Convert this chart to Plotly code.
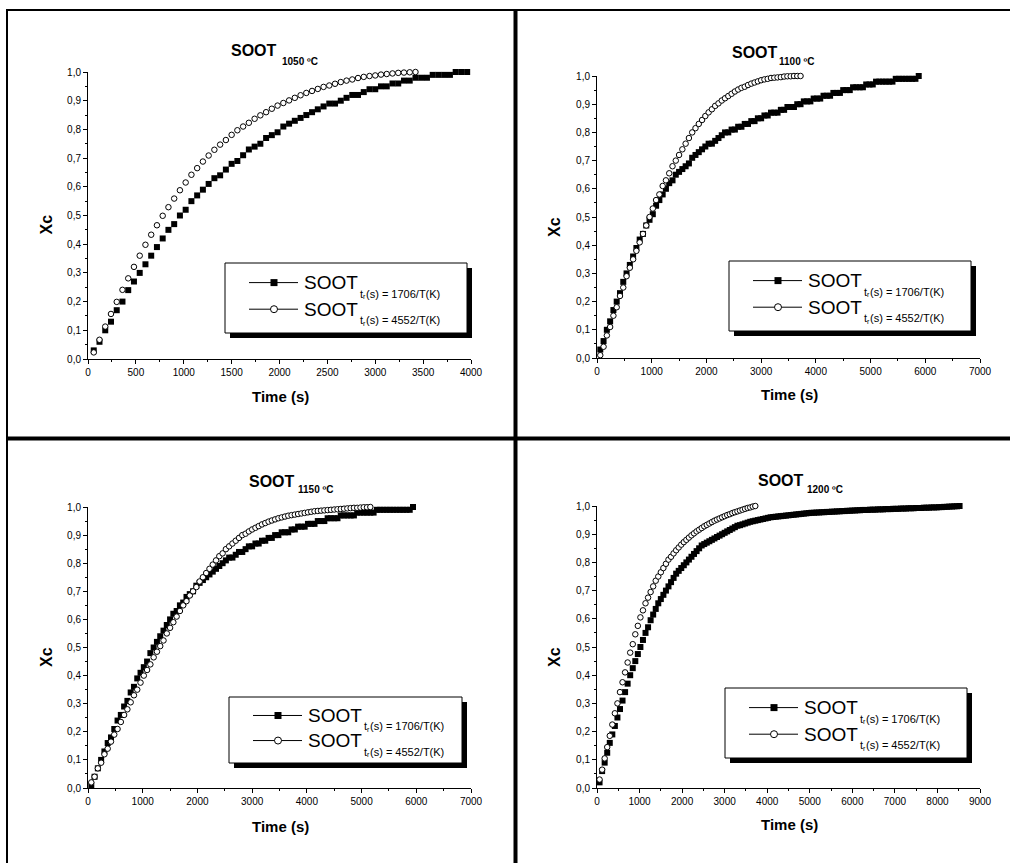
import plotly.graph_objects as go

W, H = 1010, 863
FONT = "Liberation Sans, Arial, sans-serif"

# ---------------- data ----------------
panel_temps = ["1050 ºC", "1100 ºC", "1150 ºC", "1200 ºC"]
series_ratios = ["1706/T(K)", "4552/T(K)"]
x_max = [4000, 7000, 7000, 9000]
x_dtick = [500, 1000, 1000, 1000]
y_ticks = [0.0, 0.1, 0.2, 0.3, 0.4, 0.5, 0.6, 0.7, 0.8, 0.9, 1.0]
sample_step_s = 60  # time between recorded points (s)

xc_1050_1706 = [0.03, 0.06, 0.10, 0.13, 0.17, 0.20, 0.24, 0.27, 0.30, 0.33,
                0.36, 0.39, 0.42, 0.45, 0.47, 0.50, 0.52, 0.55, 0.57, 0.59,
                0.61, 0.63, 0.64, 0.66, 0.68, 0.69, 0.71, 0.73, 0.74, 0.75,
                0.77, 0.78, 0.79, 0.81, 0.82, 0.83, 0.84, 0.85, 0.86, 0.87,
                0.88, 0.89, 0.89, 0.90, 0.91, 0.92, 0.92, 0.93, 0.94, 0.94,
                0.95, 0.95, 0.96, 0.96, 0.97, 0.97, 0.98, 0.98, 0.98, 0.99,
                0.99, 0.99, 0.99, 1.00, 1.00, 1.00]
xc_1050_4552 = [0.023, 0.067, 0.113, 0.157, 0.199, 0.241, 0.281, 0.321, 0.36, 0.398,
                0.433, 0.466, 0.499, 0.529, 0.559, 0.588, 0.615, 0.642, 0.665, 0.688,
                0.709, 0.729, 0.747, 0.763, 0.781, 0.797, 0.81, 0.823, 0.837, 0.849,
                0.86, 0.872, 0.883, 0.892, 0.901, 0.91, 0.919, 0.927, 0.934, 0.941,
                0.948, 0.953, 0.959, 0.965, 0.97, 0.974, 0.979, 0.983, 0.986, 0.988,
                0.991, 0.993, 0.995, 0.997, 0.998, 0.999, 1.0]

xc_1100_1706 = [0.03, 0.06, 0.10, 0.13, 0.17, 0.20, 0.23, 0.27, 0.30, 0.33,
                0.36, 0.39, 0.42, 0.44, 0.47, 0.49, 0.51, 0.54, 0.56, 0.58,
                0.60, 0.62, 0.63, 0.65, 0.66, 0.67, 0.68, 0.69, 0.71, 0.72,
                0.73, 0.74, 0.75, 0.76, 0.76, 0.77, 0.78, 0.79, 0.80, 0.80,
                0.81, 0.81, 0.82, 0.82, 0.83, 0.83, 0.84, 0.84, 0.85, 0.85,
                0.86, 0.86, 0.87, 0.87, 0.87, 0.88, 0.88, 0.89, 0.89, 0.89,
                0.90, 0.90, 0.91, 0.91, 0.91, 0.92, 0.92, 0.92, 0.93, 0.93,
                0.93, 0.94, 0.94, 0.94, 0.95, 0.95, 0.95, 0.96, 0.96, 0.96,
                0.96, 0.97, 0.97, 0.97, 0.98, 0.98, 0.98, 0.98, 0.98, 0.98,
                0.99, 0.99, 0.99, 0.99, 0.99, 0.99, 0.99, 1.00]
xc_1100_4552 = [0.01, 0.04, 0.08, 0.11, 0.15, 0.18, 0.22, 0.25, 0.29, 0.32,
                0.35, 0.38, 0.41, 0.44, 0.47, 0.50, 0.53, 0.56, 0.58, 0.61,
                0.63, 0.655, 0.68, 0.70, 0.72, 0.74, 0.76, 0.78, 0.80, 0.815,
                0.83, 0.844, 0.858, 0.871, 0.882, 0.894, 0.903, 0.913, 0.921, 0.929,
                0.937, 0.945, 0.952, 0.958, 0.962, 0.968, 0.973, 0.977, 0.981, 0.985,
                0.988, 0.99, 0.993, 0.994, 0.995, 0.996, 0.998, 0.999, 0.999, 1.0,
                1.0, 1.0]

xc_1150_1706 = [0.01, 0.04, 0.07, 0.10, 0.13, 0.16, 0.18, 0.21, 0.24, 0.26,
                0.29, 0.31, 0.34, 0.36, 0.39, 0.41, 0.43, 0.45, 0.48, 0.50,
                0.52, 0.54, 0.56, 0.58, 0.60, 0.62, 0.63, 0.65, 0.66, 0.68,
                0.69, 0.70, 0.72, 0.73, 0.74, 0.75, 0.76, 0.77, 0.78, 0.79,
                0.80, 0.81, 0.82, 0.82, 0.83, 0.84, 0.84, 0.85, 0.86, 0.86,
                0.87, 0.87, 0.88, 0.88, 0.89, 0.89, 0.90, 0.90, 0.91, 0.91,
                0.91, 0.92, 0.92, 0.93, 0.93, 0.93, 0.94, 0.94, 0.94, 0.95,
                0.95, 0.95, 0.96, 0.96, 0.96, 0.96, 0.97, 0.97, 0.97, 0.97,
                0.97, 0.98, 0.98, 0.98, 0.98, 0.98, 0.98, 0.99, 0.99, 0.99,
                0.99, 0.99, 0.99, 0.99, 0.99, 0.99, 0.99, 0.99, 1.00]
xc_1150_4552 = [0.02, 0.04, 0.07, 0.09, 0.12, 0.14, 0.165, 0.19, 0.21, 0.235,
                0.26, 0.28, 0.305, 0.33, 0.35, 0.375, 0.40, 0.42, 0.44, 0.465,
                0.485, 0.505, 0.525, 0.55, 0.57, 0.59, 0.61, 0.63, 0.65, 0.665,
                0.685, 0.70, 0.715, 0.735, 0.75, 0.765, 0.78, 0.795, 0.81, 0.825,
                0.835, 0.85, 0.86, 0.87, 0.88, 0.89, 0.90, 0.905, 0.913, 0.92,
                0.926, 0.932, 0.938, 0.943, 0.948, 0.952, 0.956, 0.96, 0.963, 0.966,
                0.969, 0.971, 0.973, 0.975, 0.977, 0.979, 0.981, 0.983, 0.985, 0.986,
                0.987, 0.988, 0.989, 0.99, 0.991, 0.992, 0.993, 0.994, 0.995, 0.996,
                0.997, 0.997, 0.998, 0.999, 0.999, 1.0]

xc_1200_1706 = [0.02, 0.06, 0.09, 0.125, 0.16, 0.19, 0.22, 0.25, 0.28, 0.31,
                0.34, 0.37, 0.40, 0.425, 0.45, 0.475, 0.50, 0.525, 0.55, 0.57,
                0.595, 0.615, 0.635, 0.655, 0.67, 0.685, 0.70, 0.715, 0.73, 0.745,
                0.76, 0.77, 0.78, 0.79, 0.80, 0.81, 0.82, 0.83, 0.84, 0.85,
                0.86, 0.865, 0.87, 0.875, 0.88, 0.885, 0.89, 0.895, 0.90, 0.905,
                0.91, 0.915, 0.92, 0.925, 0.93, 0.932, 0.935, 0.938, 0.941, 0.944,
                0.946, 0.948, 0.95, 0.952, 0.954, 0.956, 0.958, 0.96, 0.961, 0.962,
                0.963, 0.964, 0.965, 0.966, 0.967, 0.968, 0.969, 0.97, 0.971, 0.972,
                0.973, 0.974, 0.975, 0.976, 0.976, 0.977, 0.977, 0.978, 0.978, 0.979,
                0.979, 0.98, 0.98, 0.981, 0.981, 0.982, 0.982, 0.983, 0.983, 0.984,
                0.984, 0.985, 0.985, 0.986, 0.986, 0.986, 0.987, 0.987, 0.987, 0.988,
                0.988, 0.988, 0.989, 0.989, 0.989, 0.99, 0.99, 0.99, 0.991, 0.991,
                0.991, 0.992, 0.992, 0.992, 0.993, 0.993, 0.993, 0.994, 0.994, 0.994,
                0.995, 0.995, 0.995, 0.996, 0.996, 0.997, 0.997, 0.998, 0.998, 0.999,
                0.999, 1.0]
xc_1200_4552 = [0.03, 0.065, 0.105, 0.145, 0.185, 0.225, 0.265, 0.30, 0.34, 0.375,
                0.41, 0.445, 0.48, 0.51, 0.545, 0.575, 0.605, 0.63, 0.655, 0.675,
                0.695, 0.715, 0.735, 0.75, 0.765, 0.78, 0.795, 0.81, 0.82, 0.832,
                0.843, 0.853, 0.863, 0.872, 0.88, 0.888, 0.896, 0.903, 0.91, 0.916,
                0.922, 0.928, 0.933, 0.938, 0.943, 0.948, 0.952, 0.956, 0.96, 0.964,
                0.968, 0.971, 0.975, 0.978, 0.981, 0.984, 0.987, 0.99, 0.993, 0.995,
                0.998, 1.0]

series_1706 = [xc_1050_1706, xc_1100_1706, xc_1150_1706, xc_1200_1706]
series_4552 = [xc_1050_4552, xc_1100_4552, xc_1150_4552, xc_1200_4552]


def times(values):
    return [sample_step_s * (k + 1) for k in range(len(values))]


# ---------------- layout geometry (pixels) ----------------
panels = [
    dict(plot=(88, 471, 72, 359), legend=(225, 263, 467, 333),
         title=(231, 50.5, 282, 61), xt=(280, 396), yt=(45.5, 225)),
    dict(plot=(597, 980, 76, 358), legend=(729, 261, 971, 331),
         title=(732, 52, 779, 62), xt=(789, 394), yt=(554, 227)),
    dict(plot=(88, 471, 507, 788), legend=(229, 697, 462, 763),
         title=(249, 481, 298, 490), xt=(280, 826), yt=(46, 657)),
    dict(plot=(597, 980, 506, 788), legend=(725, 688, 967, 758),
         title=(758, 480, 807, 490), xt=(789, 824), yt=(554, 657)),
]


def px(x):
    return x / W


def py(y):
    return 1 - y / H


fig = go.Figure()
layout = dict(
    width=W, height=H,
    margin=dict(l=0, r=0, t=0, b=0, pad=0, autoexpand=False),
    paper_bgcolor="white", plot_bgcolor="white",
    separators=",.", showlegend=False,
    font=dict(family=FONT, color="black"),
)
shapes = []
annotations = []


def ann(x, y, text, size, bold=False, xanchor="left", angle=0):
    if bold:
        text = "<b>" + text + "</b>"
    annotations.append(dict(
        x=px(x), y=py(y), xref="paper", yref="paper", text=text, showarrow=False,
        xanchor=xanchor, yanchor="middle", textangle=angle,
        font=dict(family=FONT, size=size, color="black"),
        borderpad=0, borderwidth=0))


for i, p in enumerate(panels):
    n = "" if i == 0 else str(i + 1)
    x0, x1, y0, y1 = p["plot"]
    layout["xaxis" + n] = dict(
        domain=[px(x0), px(x1)], anchor="y" + n, range=[0, x_max[i]],
        automargin=False,
        showline=True, linecolor="black", linewidth=1, mirror=False,
        ticks="outside", ticklen=4, tickwidth=1, tickcolor="black",
        tick0=0, dtick=x_dtick[i], tickformat="d",
        showgrid=False, zeroline=False,
        tickfont=dict(family=FONT, size=10, color="black"),
        minor=dict(ticks="outside", ticklen=2, tickwidth=1, tickcolor="black",
                   dtick=x_dtick[i] / 2, showgrid=False),
    )
    layout["yaxis" + n] = dict(
        domain=[py(y1), py(y0)], anchor="x" + n, range=[0, 1.0],
        automargin=False,
        showline=True, linecolor="black", linewidth=1, mirror=False,
        ticks="outside", ticklen=4, tickwidth=1, tickcolor="black",
        tickmode="array", tickvals=y_ticks, tickformat=".1f",
        showgrid=False, zeroline=False,
        tickfont=dict(family=FONT, size=10, color="black"),
        minor=dict(ticks="outside", ticklen=2, tickwidth=1, tickcolor="black",
                   tick0=0, dtick=0.05, showgrid=False),
    )
    s_a = series_1706[i]
    s_b = series_4552[i]
    fig.add_trace(go.Scatter(
        x=times(s_a), y=s_a, mode="markers", xaxis="x" + n, yaxis="y" + n,
        name="SOOT tr(s) = " + series_ratios[0], cliponaxis=False,
        marker=dict(symbol="square", size=6, color="black", line=dict(width=0))))
    fig.add_trace(go.Scatter(
        x=times(s_b), y=s_b, mode="markers", xaxis="x" + n, yaxis="y" + n,
        name="SOOT tr(s) = " + series_ratios[1], cliponaxis=False,
        marker=dict(symbol="circle", size=5.5, color="white",
                    line=dict(width=1, color="black"))))

    # titles
    tx, ty, sx, sy = p["title"]
    ann(tx, ty, "SOOT", 16, bold=True)
    ann(sx, sy, panel_temps[i], 10, bold=True)
    ann(p["xt"][0], p["xt"][1], "Time (s)", 15, bold=True, xanchor="center")
    ann(p["yt"][0], p["yt"][1], "Xc", 16, bold=True, xanchor="center", angle=-90)

    # legend box with shadow
    lx0, ly0, lx1, ly1 = p["legend"]
    shapes.append(dict(type="rect", xref="paper", yref="paper",
                       x0=px(lx0 + 5), x1=px(lx1 + 5), y0=py(ly1 + 5), y1=py(ly0 + 5),
                       fillcolor="black", line=dict(width=0)))
    shapes.append(dict(type="rect", xref="paper", yref="paper",
                       x0=px(lx0), x1=px(lx1), y0=py(ly1), y1=py(ly0),
                       fillcolor="white", line=dict(width=1, color="black")))
    h = ly1 - ly0
    rows = [ly0 + 0.28 * h, ly0 + 0.66 * h]
    for r, ry in enumerate(rows):
        shapes.append(dict(type="line", xref="paper", yref="paper",
                           x0=px(lx0 + 24), x1=px(lx0 + 73), y0=py(ry), y1=py(ry),
                           line=dict(width=1, color="black")))
        cx = lx0 + 49
        if r == 0:
            shapes.append(dict(type="rect", xref="paper", yref="paper",
                               x0=px(cx - 3.5), x1=px(cx + 3.5), y0=py(ry + 3.5), y1=py(ry - 3.5),
                               fillcolor="black", line=dict(width=0)))
        else:
            shapes.append(dict(type="circle", xref="paper", yref="paper",
                               x0=px(cx - 3.5), x1=px(cx + 3.5), y0=py(ry + 3.5), y1=py(ry - 3.5),
                               fillcolor="white", line=dict(width=1, color="black")))
        ann(lx0 + 79, ry, "SOOT", 19)
        ann(lx0 + 135, ry + 11, "t", 11)
        ann(lx0 + 138.2, ry + 14, "r", 7)
        ann(lx0 + 141, ry + 11, "(s) = " + series_ratios[r], 11)

# page frame lines
frame = [
    (7, 9, 7, H, 2),
    (6, 10, W, 10, 2),
    (515.5, 9, 515.5, H, 4),
    (6, 438.5, W, 438.5, 4),
]
for (a, b, c, d, w) in frame:
    shapes.append(dict(type="line", xref="paper", yref="paper",
                       x0=px(a), y0=py(b), x1=px(c), y1=py(d),
                       line=dict(width=w, color="black")))

layout["shapes"] = shapes
layout["annotations"] = annotations
fig.update_layout(**layout)

fit_page = """
document.documentElement.style.margin = '0';
document.body.style.margin = '0';
document.body.style.overflow = 'hidden';
"""
fig.write_html("out.html", config={"displayModeBar": False}, post_script=fit_page)
